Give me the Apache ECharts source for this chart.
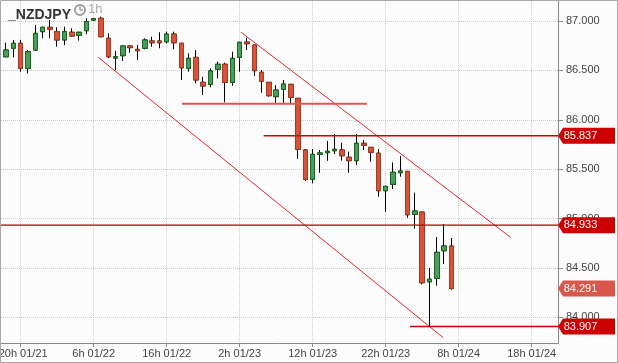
<!DOCTYPE html>
<html><head><meta charset="utf-8">
<script src="https://cdn.jsdelivr.net/npm/echarts@6/dist/echarts.min.js"></script>
<style>html,body{margin:0;padding:0;background:#fcfcfc}#c{width:618px;height:363px}</style>
</head><body><div id="c"></div><script>
// hour index: 0 = 0h 01/21
const hours = [18,19,20,21,22,23,24,25,26,27,28,29,30,31,32,33,34,35,36,37,38,39,40,41,42,43,44,45,46,47,48,49,50,51,52,53,54,55,56,57,58,59,60,61,62,63,64,65,66,67,68,69,70,71,72,73,74,75,76,77,78,79];
const opens  = [86.638,86.724,86.774,86.521,86.706,86.892,86.936,86.892,86.808,86.886,86.855,86.902,87.010,87.027,86.825,86.625,86.649,86.747,86.713,86.724,86.798,86.798,86.790,86.868,86.774,86.521,86.632,86.379,86.359,86.511,86.562,86.379,86.632,86.787,86.757,86.481,86.379,86.234,86.308,86.359,86.217,85.694,85.397,85.650,85.667,85.687,85.694,85.620,85.586,85.762,85.721,85.661,85.282,85.347,85.464,85.478,85.043,85.066,84.360,84.395,84.674,84.722];
const closes = [86.706,86.774,86.521,86.689,86.875,86.936,86.916,86.808,86.892,86.848,86.886,86.993,87.023,86.841,86.638,86.638,86.747,86.730,86.699,86.808,86.780,86.780,86.868,86.780,86.527,86.622,86.403,86.342,86.494,86.562,86.379,86.622,86.784,86.770,86.497,86.390,86.244,86.301,86.362,86.227,85.701,85.397,85.650,85.664,85.681,85.701,85.636,85.586,85.762,85.741,85.671,85.282,85.326,85.468,85.481,85.039,85.076,84.350,84.385,84.658,84.722,84.291];
const lows   = [86.632,86.632,86.487,86.470,86.699,86.825,86.825,86.740,86.757,86.841,86.801,86.865,87.003,86.835,86.622,86.504,86.595,86.679,86.605,86.713,86.740,86.724,86.774,86.713,86.403,86.487,86.369,86.251,86.329,86.420,86.177,86.345,86.487,86.706,86.443,86.274,86.234,86.160,86.167,86.167,85.603,85.380,85.357,85.464,85.585,85.653,85.586,85.464,85.542,85.694,85.575,85.221,85.069,85.299,85.424,85.008,84.897,84.334,83.907,84.320,84.540,84.280];
const highs  = [86.780,86.808,86.808,86.706,86.960,86.942,87.010,86.936,86.942,86.926,86.890,87.027,87.027,87.043,86.875,86.699,86.747,86.750,86.757,86.825,86.841,86.886,86.892,86.892,86.780,86.673,86.706,86.436,86.521,86.588,86.578,86.689,86.790,86.831,86.760,86.504,86.382,86.352,86.403,86.362,86.220,85.704,85.704,85.694,85.785,85.856,85.768,85.677,85.856,85.795,85.724,85.704,85.330,85.569,85.633,85.481,85.262,85.070,84.502,84.813,84.945,84.803];

const yTicks = [84.0,84.5,85.0,85.5,86.0,86.5,87.0];
const xTicks = [20,30,40,50,60,70,80,90];

const trendUpper = [[50.18,86.886],[87.12,84.810]];
const trendLower = [[30.63,86.6325],[77.89,83.7936]];
const supportLine = [[42.10,86.163],[67.44,86.163]];
const resistLevel = 85.837, resistFrom = 53.29;
const pivotLevel = 84.933;
const lowLevel = 83.907, lowFrom = 73.33;
const lastPrice = 84.291;

const X_MIN = 17.305, X_MAX = 93.61, Y_MIN = 83.740, Y_MAX = 87.2025;

const ohlc = hours.map((h,i)=>[h, opens[i], closes[i], lows[i], highs[i]]);
const bodies = hours.map((h,i)=>[h, opens[i], closes[i], Math.min(opens[i],closes[i]), Math.max(opens[i],closes[i])]);

const tagPath = 'path://M0,8L5,0L57,0L57,16L5,16Z';
function tag(price, color){
  return {coord:[X_MAX, price], value:price, symbol:tagPath, symbolSize:[57,16], symbolOffset:[28.5,0],
    itemStyle:{color:color},
    label:{show:true, position:'inside', offset:[-6,0], color:'#fff', fontSize:11, fontFamily:'Liberation Sans, Arial', formatter:p=>p.value.toFixed(3)}};
}
function fmtHour(v){
  const d = 21 + Math.floor(v/24); const hr = v % 24; const s = hr + 'h 01/' + d;
  return v === xTicks[0] ? '{first|' + s + '}' : s;
}

const font = 'Liberation Sans, Arial, sans-serif';
const chart = echarts.init(document.getElementById('c'), null, {renderer:'canvas'});
chart.setOption({
  backgroundColor:'#fcfcfc',
  animation:false,
  title:{text:'_NZDJPY', left:3, top:3, textStyle:{fontSize:14, fontWeight:'bold', color:'#333', fontFamily:font}},
  grid:{left:1, right:60, top:1, bottom:20, containLabel:false, outerBoundsMode:'none'},
  xAxis:{type:'value', min:X_MIN, max:X_MAX,
    axisLine:{show:true, onZero:false, lineStyle:{color:'#888'}},
    axisTick:{show:true, length:4, customValues:xTicks, lineStyle:{color:'#888'}},
    axisLabel:{customValues:xTicks, formatter:fmtHour, color:'#444', fontSize:11, margin:5, fontFamily:font, hideOverlap:false,
      rich:{first:{padding:[0,0,0,5], color:'#444', fontSize:11, fontFamily:font}}},
    splitLine:{show:true, lineStyle:{type:'dotted', color:'#c6d3c6'}}},
  yAxis:{type:'value', position:'right', min:Y_MIN, max:Y_MAX,
    axisLine:{show:true, lineStyle:{color:'#888'}},
    axisTick:{show:true, length:5, customValues:yTicks, lineStyle:{color:'#888'}},
    axisLabel:{customValues:yTicks, formatter:v=>v.toFixed(3), color:'#444', fontSize:11, margin:8, fontFamily:font},
    splitLine:{show:true, lineStyle:{type:'dotted', color:'#cccccc'}}},
  series:[
    {type:'candlestick', data:ohlc, encode:{x:0, y:[1,2,3,4]}, barWidth:5, z:2,
      itemStyle:{color:'transparent', color0:'transparent', borderColor:'#000', borderColor0:'#000', borderColorDoji:'#000', borderWidth:1}},
    {type:'candlestick', data:bodies, encode:{x:0, y:[1,2,3,4]}, barWidth:5, z:3,
      itemStyle:{color:'#4f9a62', color0:'#d9533a', borderColor:'#126e12', borderColor0:'#a53a20', borderColorDoji:'#126e12', borderWidth:1}},
    {type:'line', data:trendUpper, symbol:'none', lineStyle:{color:'#dd2a2a', width:1}, z:4},
    {type:'line', data:trendLower, symbol:'none', lineStyle:{color:'#dd2a2a', width:1}, z:4},
    {type:'line', data:supportLine, symbol:'none', lineStyle:{color:'#e25555', width:2}, z:4},
    {type:'line', data:[[resistFrom,resistLevel],[X_MAX,resistLevel]], symbol:'none', lineStyle:{color:'#cc0000', width:1.5}, z:4},
    {type:'line', data:[[X_MIN,pivotLevel],[X_MAX,pivotLevel]], symbol:'none', lineStyle:{color:'#b00000', width:1.2}, z:4},
    {type:'line', data:[[lowFrom,lowLevel],[X_MAX,lowLevel]], symbol:'none', lineStyle:{color:'#cc0000', width:1.5}, z:4,
      markPoint:{silent:true, data:[tag(resistLevel,'#cc0000'), tag(pivotLevel,'#cc0000'), tag(lastPrice,'#d9574a'), tag(lowLevel,'#cc0000')]}}
  ],
  graphic:[
    {type:'rect', shape:{x:0.5, y:0.5, width:617, height:362}, style:{fill:'none', stroke:'#a8a8a8', lineWidth:1}, silent:true, z:100},
    {type:'circle', shape:{cx:80, cy:10, r:5}, style:{fill:'none', stroke:'#a0a0a0', lineWidth:2}, z:100},
    {type:'line', shape:{x1:80, y1:10, x2:80, y2:6.5}, style:{stroke:'#a0a0a0', lineWidth:1.5}, z:100},
    {type:'line', shape:{x1:80, y1:10, x2:83, y2:10}, style:{stroke:'#a0a0a0', lineWidth:1.5}, z:100},
    {type:'text', left:88, top:3, style:{text:'1h', fill:'#aaaaaa', fontSize:13, fontFamily:font}, z:100}
  ]
});
</script></body></html>
